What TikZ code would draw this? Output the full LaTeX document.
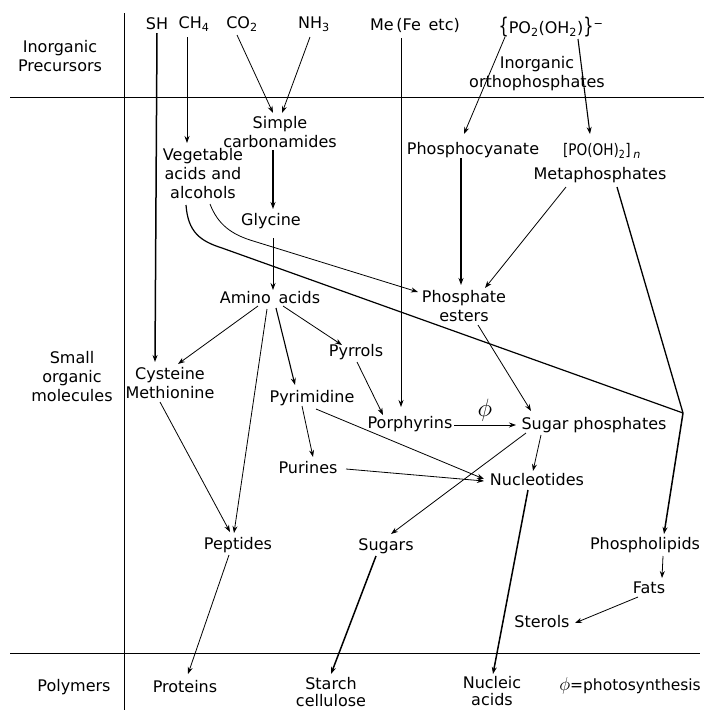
\documentclass[tikz,border=0pt]{standalone}
\usepackage{fontspec}
\setmainfont{DejaVu Sans}
\usetikzlibrary{arrows.meta,calc}
\newcommand{\bigphi}{\scalebox{1.45}{$\phi$}}
\begin{document}
\begin{tikzpicture}[x=1pt,y=-1pt,
  lbl/.style={inner sep=0pt,font=\fontsize{16}{19}\selectfont,align=center},
  tight/.style={font=\fontsize{16}{16.5}\selectfont},
  con/.style={line width=0.8pt,-{Stealth[length=7pt,width=5pt]}},
  plain/.style={line width=0.8pt},
  thk/.style={line width=1.5pt},
  rule/.style={line width=1pt}]
\useasboundingbox (0,0) rectangle (704,710);
% frame rules
\draw[rule] (10,97) -- (704,97);
\draw[rule] (10,653) -- (700,653);
\draw[rule] (124,13) -- (124,710);
% row labels
\node[lbl] (inorg) at (60,56) {Inorganic\\Precursors};
\node[lbl] (small) at (72,377) {Small\\organic\\molecules};
\node[lbl] (poly) at (74,687) {Polymers};
% precursors
\node[lbl] (sh) at (157,24) {SH};
\node[lbl] (ch4) at (194,24) {CH\textsubscript{4}};
\node[lbl] (co2) at (242,24) {CO\textsubscript{2}};
\node[lbl] (nh3) at (314,24) {NH\textsubscript{3}};
\node[lbl] (me) at (415,25) {Me\,(Fe\, etc)};
\node[lbl] (po2) at (551,27) {\scalebox{1}[1.35]{\{}PO\textsubscript{2}(OH\textsubscript{2})\scalebox{1}[1.35]{\}}\textsuperscript{−}};
\node[lbl] (ortho) at (537,74) {Inorganic\\orthophosphates};
% small molecules
\node[lbl] (simple) at (280,132) {Simple\\carbonamides};
\node[lbl] (veg) at (203,174) {Vegetable\\acids and\\alcohols};
\node[lbl] (gly) at (271,221) {Glycine};
\node[lbl] (amino) at (270,298) {Amino\, acids};
\node[lbl] (phcy) at (473,150) {Phosphocyanate};
\node[lbl] (pooh) at (602,151) {\scalebox{0.85}[1]{[PO(OH)\textsubscript{2}]}\,\textsubscript{\itshape n}};
\node[lbl] (meta) at (600,175) {Metaphosphates};
\node[lbl] (pest) at (464,306) {Phosphate\\esters};
\node[lbl] (pyrrol) at (356,352) {Pyrrols};
\node[lbl] (cyst) at (170,383) {Cysteine\\Methionine};
\node[lbl] (pyrim) at (312,398) {Pyrimidine};
\node[lbl] (porph) at (410,424) {Porphyrins};
\node[lbl] (sugp) at (594,425) {Sugar phosphates};
\node[lbl] (purine) at (308,468) {Purines};
\node[lbl] (nucl) at (537,480) {Nucleotides};
\node[lbl] (pept) at (238,545) {Peptides};
\node[lbl] (sugars) at (386,546) {Sugars};
\node[lbl] (phlip) at (645,545) {Phospholipids};
\node[lbl] (fats) at (649,588) {Fats};
\node[lbl] (sterol) at (542,622) {Sterols};
% polymers
\node[lbl] (prot) at (185,687) {Proteins};
\node[lbl,tight] (starch) at (331,692) {Starch\\cellulose};
\node[lbl,tight] (nacid) at (492,691) {Nucleic\\acids};
\node[lbl,anchor=east,font=\fontsize{15.5}{18}\selectfont] (photo) at (701,686) {\scalebox{1.3}{$\phi$}=photosynthesis};
\coordinate (jn) at (683,413);
% connectors
\draw[con,thk] ($(sh)+(0,9)$) -- ($(cyst)+(-15,-21)$);
\draw[con] ($(ch4)+(-7,13)$) -- ($(veg)+(-16,-31)$);
\draw[con] ($(co2)+(-5,11)$) -- ($(simple)+(-7,-19)$);
\draw[con] ($(nh3)+(-4,13)$) -- ($(simple)+(2,-19)$);
\draw[con,thk] ($(simple)+(-7,18)$) -- ($(gly)+(2,-12)$);
\draw[con] ($(gly)+(2,17)$) -- ($(amino)+(3,-8)$);
\draw[plain,line width=1.2pt] ($(veg)+(-17,31)$) .. controls (188,232) and (200,241) .. (222,248) -- (jn);
\draw[con] ($(veg)+(7,30)$) .. controls (218,225) and (232,234) .. (250,240) -- ($(pest)+(-46,-14)$);
\draw[con] ($(amino)+(-12,8)$) -- ($(cyst)+(8,-19)$);
\draw[con] ($(amino)+(-3,11)$) -- ($(pept)+(-4,-12)$);
\draw[con,line width=1.1pt] ($(amino)+(6,10)$) -- ($(pyrim)+(-17,-13)$);
\draw[con] ($(amino)+(13,8)$) -- ($(pyrrol)+(-14,-7)$);
\draw[con] ($(cyst)+(-10,19)$) -- ($(pept)+(-8,-13)$);
\draw[con] ($(pyrim)+(-10,8)$) -- ($(purine)+(5,-11)$);
\draw[con] ($(pyrim)+(4,11)$) -- ($(nucl)+(-53,-1)$);
\draw[con] ($(purine)+(38,1)$) -- ($(nucl)+(-53,1)$);
\draw[con] ($(pyrrol)+(1,10)$) -- ($(porph)+(-27,-9)$);
\draw[con] ($(me)+(-14,13)$) -- ($(porph)+(-9,-17)$);
\draw[con] ($(porph)+(44,1)$) -- node[lbl,above=3pt] (phi) {\bigphi} ($(sugp)+(-78,0)$);
\draw[con] ($(po2)+(-46,10)$) -- ($(phcy)+(-9,-16)$);
\draw[con,line width=1.1pt] ($(po2)+(27,12)$) -- ($(pooh)+(-12,-17)$);
\draw[con,thk] ($(phcy)+(-12,8)$) -- ($(pest)+(-3,-21)$);
\draw[con] ($(meta)+(-34,12)$) -- ($(pest)+(21,-18)$);
\draw[plain,line width=1.3pt] ($(meta)+(17,12)$) -- (jn);
\draw[con,thk] (jn) -- ($(phlip)+(19,-11)$);
\draw[con] ($(pest)+(14,19)$) -- ($(sugp)+(-63,-14)$);
\draw[con] ($(sugp)+(-53,10)$) -- ($(nucl)+(-4,-9)$);
\draw[con] ($(sugp)+(-68,8)$) -- ($(sugars)+(5,-12)$);
\draw[con,thk] ($(nucl)+(-9,10)$) -- ($(nacid)+(1,-17)$);
\draw[con,thk] ($(sugars)+(-10,10)$) -- ($(starch)+(0,-18)$);
\draw[con] ($(pept)+(-9,10)$) -- ($(prot)+(3,-13)$);
\draw[con] ($(phlip)+(18,11)$) -- ($(fats)+(13,-10)$);
\draw[con] ($(fats)+(-11,9)$) -- ($(sterol)+(33,1)$);
\end{tikzpicture}
\end{document}
